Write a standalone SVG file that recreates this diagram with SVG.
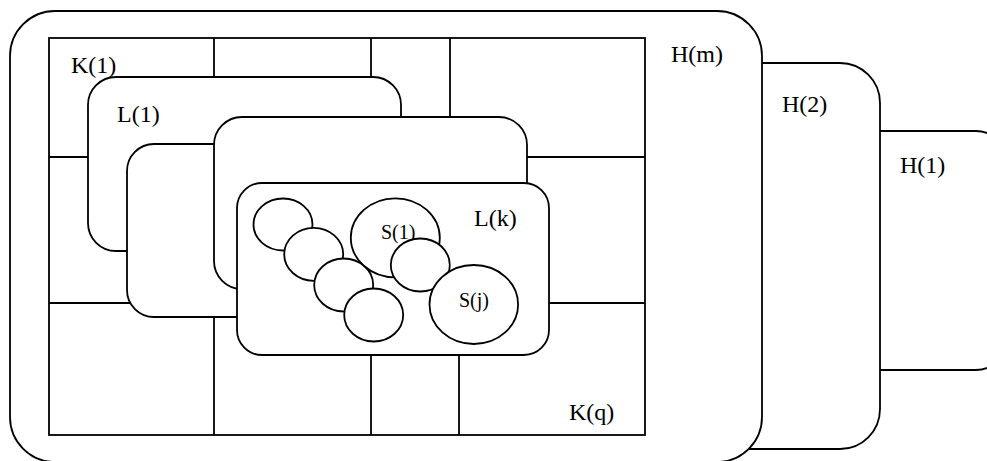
<svg xmlns="http://www.w3.org/2000/svg" width="987" height="461" viewBox="0 0 987 461">
  <style>
    .box { fill: #ffffff; stroke: #000000; stroke-width: 1.8; }
    .cell { fill: none; stroke: #000000; stroke-width: 1.8; }
    .lbl { font-family: "Liberation Serif", "Times New Roman", serif; font-size: 24px; fill: #000000; }
    .slbl { font-family: "Liberation Serif", "Times New Roman", serif; font-size: 20px; fill: #000000; }
  </style>
  <rect width="987" height="461" fill="#ffffff"/>

  <!-- stacked H layers, back to front -->
  <g id="H1">
    <rect class="box" x="840" y="131" width="166" height="239" rx="30" ry="30"/>
    <text class="lbl" x="900" y="173">H(1)</text>
  </g>
  <g id="H2">
    <rect class="box" x="700" y="63" width="180" height="386" rx="40" ry="40"/>
    <text class="lbl" x="782" y="112">H(2)</text>
  </g>
  <g id="Hm">
    <rect class="box" x="10" y="11" width="752" height="451" rx="45" ry="45"/>
    <text class="lbl" x="671" y="62">H(m)</text>
  </g>

  <!-- K grid: cells K(1) .. K(q) -->
  <g id="K-grid">
    <rect class="cell" x="49" y="38" width="596" height="397"/>
    <line class="cell" x1="214" y1="38" x2="214" y2="435"/>
    <line class="cell" x1="371" y1="38" x2="371" y2="435"/>
    <line class="cell" x1="450" y1="38" x2="450" y2="157"/>
    <line class="cell" x1="459" y1="303" x2="459" y2="435"/>
    <line class="cell" x1="49" y1="157" x2="645" y2="157"/>
    <line class="cell" x1="49" y1="303" x2="645" y2="303"/>
    <text class="lbl" x="71" y="73">K(1)</text>
    <text class="lbl" x="569" y="420">K(q)</text>
  </g>

  <!-- L layers, back to front -->
  <g id="L1">
    <rect class="box" x="88" y="77" width="313" height="174" rx="28" ry="28"/>
    <text class="lbl" x="117" y="122">L(1)</text>
  </g>
  <g id="L2">
    <rect class="box" x="127" y="144" width="200" height="173" rx="27" ry="27"/>
  </g>
  <g id="L3">
    <rect class="box" x="214" y="117" width="313" height="172" rx="28" ry="28"/>
  </g>
  <g id="Lk">
    <rect class="box" x="237" y="183" width="312" height="172" rx="25" ry="25"/>
    <text class="lbl" x="474" y="226">L(k)</text>
  </g>

  <!-- S sets inside L(k) -->
  <g id="S-a"><ellipse class="box" cx="283" cy="224.5" rx="29.5" ry="26"/></g>
  <g id="S-b"><ellipse class="box" cx="313.7" cy="254.3" rx="29.5" ry="26.5"/></g>
  <g id="S-c"><ellipse class="box" cx="343.7" cy="285" rx="29.5" ry="26.5"/></g>
  <g id="S-d"><ellipse class="box" cx="373.7" cy="315" rx="29.5" ry="26.5"/></g>
  <g id="S1">
    <ellipse class="box" cx="395.3" cy="237.8" rx="44.5" ry="39.5"/>
    <text class="slbl" x="381" y="239">S(1)</text>
  </g>
  <g id="S-e"><ellipse class="box" cx="420.3" cy="265" rx="29.5" ry="26.5"/></g>
  <g id="Sj">
    <ellipse class="box" cx="473.8" cy="304.5" rx="44.3" ry="39.5"/>
    <text class="slbl" x="459" y="307">S(j)</text>
  </g>
</svg>
